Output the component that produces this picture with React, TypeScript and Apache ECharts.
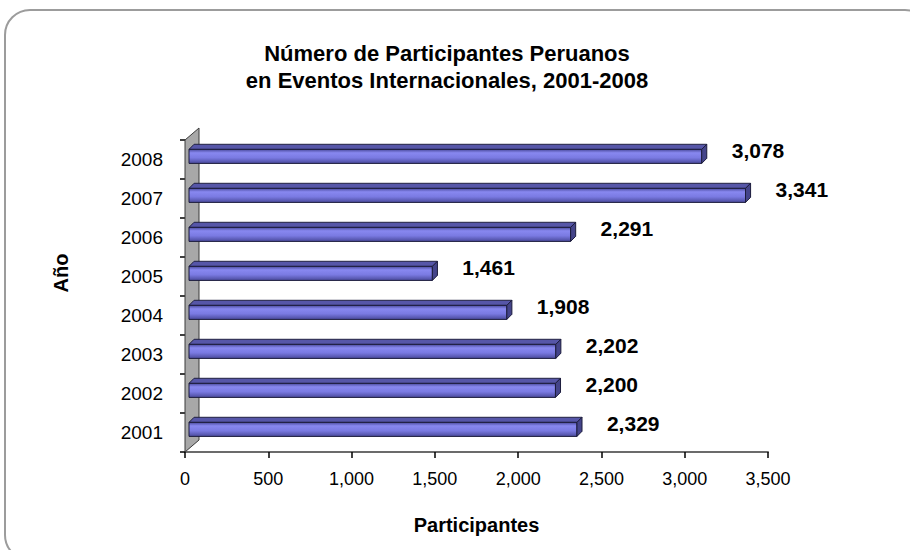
import React, { useEffect, useRef } from "react";
import * as echarts from "echarts";

const years = ["2001", "2002", "2003", "2004", "2005", "2006", "2007", "2008"];
const participants = [2329, 2200, 2202, 1908, 1461, 2291, 3341, 3078];
const xMin = 0;
const xMax = 3500;
const xInterval = 500;
const titleText = "Número de Participantes Peruanos\nen Eventos Internacionales, 2001-2008";
const xName = "Participantes";
const yName = "Año";

const fmt = (v: number) => Math.round(v).toLocaleString("en-US");
const FONT = "'Liberation Sans', Arial, sans-serif";

export default function App() {
  const ref = useRef<HTMLDivElement>(null);
  useEffect(() => {
    if (!ref.current) return;
    const chart = echarts.init(ref.current, undefined, { renderer: "svg" });
    const frontGrad = new echarts.graphic.LinearGradient(0, 0, 0, 1, [
      { offset: 0, color: "#4a4a9c" },
      { offset: 0.25, color: "#8888f0" },
      { offset: 0.6, color: "#7a7ae2" },
      { offset: 1, color: "#4a4a9c" },
    ]);
    const renderItem = (params: any, api: any) => {
      const idx = api.value(1);
      const val = api.value(0);
      const p0 = api.coord([0, idx]);
      const p1 = api.coord([val, idx]);
      const band = api.size([0, 1])[1];
      const h = band * 0.36;
      const d = band * 0.13;
      const off = 4;
      const yc = p0[1];
      const x0 = p0[0] + off;
      const x1 = p1[0] + off;
      const yTop = yc - band * 0.26;
      const yBot = yTop + h;
      const children: any[] = [];
      if (params.dataIndex === 0) {
        const cs = params.coordSys;
        const wd = 14;
        const wh = 12;
        children.push({
          type: "polygon",
          shape: {
            points: [
              [cs.x, cs.y],
              [cs.x + wd, cs.y - wh],
              [cs.x + wd, cs.y + cs.height - wh],
              [cs.x, cs.y + cs.height],
            ],
          },
          style: { fill: "#a8a8a8", stroke: "#3a3a3a", lineWidth: 1 },
        });
      }
      children.push({
        type: "polygon",
        shape: { points: [[x0, yTop], [x0 + d, yTop - d], [x1 + d, yTop - d], [x1, yTop]] },
        style: { fill: "#5656a8", stroke: "#202040", lineWidth: 1 },
      });
      children.push({
        type: "rect",
        shape: { x: x0, y: yTop, width: x1 - x0, height: h },
        style: { fill: frontGrad, stroke: "#1c1c3c", lineWidth: 1 },
      });
      children.push({
        type: "polygon",
        shape: { points: [[x1, yTop], [x1 + d, yTop - d], [x1 + d, yBot - d], [x1, yBot]] },
        style: { fill: "#44448a", stroke: "#1c1c3c", lineWidth: 1 },
      });
      children.push({
        type: "text",
        x: x1 + 30,
        y: yc - 9,
        style: {
          text: fmt(val),
          fill: "#000",
          font: "bold 21px " + FONT,
          align: "left",
          verticalAlign: "middle",
        },
      });
      return { type: "group", children };
    };

    chart.setOption({
      animation: false,
      backgroundColor: "#ffffff",
      grid: { left: 185, right: 142, top: 140, bottom: 98, containLabel: false },
      xAxis: {
        type: "value",
        min: xMin,
        max: xMax,
        interval: xInterval,
        name: xName,
        nameLocation: "middle",
        nameGap: 63,
        nameTextStyle: { fontFamily: FONT, fontSize: 20, fontWeight: "bold", color: "#000" },
        axisLine: { show: true, lineStyle: { color: "#6b6b6b", width: 2 } },
        axisTick: { show: true, length: 6, lineStyle: { color: "#000", width: 1.5 } },
        splitLine: { show: false },
        axisLabel: {
          margin: 18,
          formatter: (v: number) => fmt(v),
          fontFamily: FONT,
          fontSize: 18,
          color: "#000",
        },
      },
      yAxis: {
        type: "category",
        data: years,
        axisLine: { show: false },
        axisTick: { show: true, length: 5, lineStyle: { color: "#000", width: 1.5 } },
        axisLabel: { margin: 22, fontFamily: FONT, fontSize: 19, color: "#000" },
      },
      graphic: [
        {
          type: "rect",
          shape: { x: 5, y: 10, width: 925, height: 550, r: 25 },
          style: { fill: "none", stroke: "#9c9c9c", lineWidth: 2 },
          silent: true,
        },
        {
          type: "text",
          x: 447,
          y: 67,
          style: {
            text: titleText,
            fill: "#000",
            font: "bold 22px " + FONT,
            lineHeight: 27,
            align: "center",
            verticalAlign: "middle",
          },
        },
        {
          type: "text",
          x: 61,
          y: 273,
          rotation: Math.PI / 2,
          style: {
            text: yName,
            fill: "#000",
            font: "bold 20px " + FONT,
            align: "center",
            verticalAlign: "middle",
          },
        },
      ],
      series: [
        {
          type: "custom",
          renderItem,
          data: participants.map((v, i) => [v, i]),
          encode: { x: 0, y: 1 },
          clip: false,
        },
      ],
    });
    return () => chart.dispose();
  }, []);
  return (
    <div ref={ref} style={{ position: "fixed", left: 0, top: 0, width: 910, height: 550 }} />
  );
}
